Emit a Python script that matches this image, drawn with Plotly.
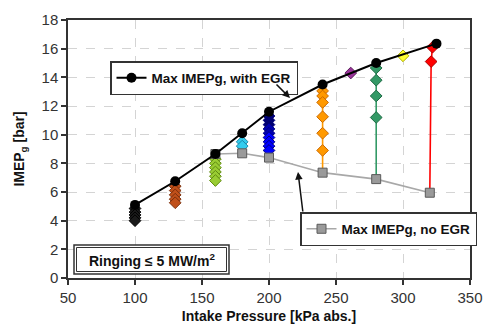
import plotly.graph_objects as go

# ---------------- data ----------------
max_egr_x = [100, 130, 160, 180, 200, 240, 280, 325]
max_egr_y = [5.1, 6.75, 8.65, 10.1, 11.6, 13.5, 15.0, 16.35]

no_egr_x = [160, 180, 200, 240, 280, 320]
no_egr_y = [8.65, 8.7, 8.4, 7.35, 6.9, 5.95]

# EGR sweeps (diamonds) at each intake pressure
sweep_100_x = [100, 100, 100, 100, 100]
sweep_100_y = [4.85, 4.6, 4.4, 4.2, 4.0]
sweep_130_x = [130, 130, 130, 130, 130]
sweep_130_y = [6.4, 6.1, 5.8, 5.5, 5.25]
sweep_160_x = [160, 160, 160, 160, 160, 160]
sweep_160_y = [8.3, 8.0, 7.7, 7.4, 7.1, 6.8]
sweep_180_x = [180, 180]
sweep_180_y = [9.5, 9.2]
sweep_200_x = [200, 200, 200, 200, 200, 200, 200, 200, 200]
sweep_200_y = [11.3, 11.0, 10.7, 10.4, 10.1, 9.8, 9.5, 9.2, 8.9]
sweep_240_x = [240, 240, 240, 240, 240, 240]
sweep_240_y = [13.05, 12.7, 12.25, 11.25, 10.1, 8.9]
sweep_260_x = [261]
sweep_260_y = [14.3]
sweep_280_x = [280, 280, 280, 280]
sweep_280_y = [14.65, 13.8, 12.7, 11.2]
sweep_300_x = [300]
sweep_300_y = [15.5]
sweep_320_x = [322, 321]
sweep_320_y = [16.1, 15.1]

x_ticks = [50, 100, 150, 200, 250, 300, 350]
y_ticks = [0, 2, 4, 6, 8, 10, 12, 14, 16, 18]

FONT = "Arial, Liberation Sans, sans-serif"

# ---------------- geometry helpers (pixel -> paper) ----------------
W, H = 486, 332
ML, MR, MT, MB = 68, 16, 20, 54
PW, PH = W - ML - MR, H - MT - MB


def px(xp):
    return (xp - ML) / PW


def py(yp):
    return (H - MB - yp) / PH


fig = go.Figure()

# sweeps: (x, y, top y, bottom y or None, fill, edge)
sweeps = [
    (sweep_100_x, sweep_100_y, max_egr_y[0], None, "#1a1a1a", "#000000"),
    (sweep_130_x, sweep_130_y, max_egr_y[1], None, "#c0501a", "#7a2e0a"),
    (sweep_160_x, sweep_160_y, max_egr_y[2], None, "#99cc33", "#5f8a10"),
    (sweep_180_x, sweep_180_y, max_egr_y[3], no_egr_y[1], "#33ccee", "#1a88aa"),
    (sweep_200_x, sweep_200_y, max_egr_y[4], no_egr_y[2], "#0000ee", "#000080"),
    (sweep_240_x, sweep_240_y, max_egr_y[5], no_egr_y[3], "#ff9900", "#cc6a00"),
    (sweep_260_x, sweep_260_y, None, None, "#993399", "#5a1a5a"),
    (sweep_280_x, sweep_280_y, max_egr_y[6], no_egr_y[4], "#339966", "#1f6b45"),
    (sweep_300_x, sweep_300_y, None, None, "#ffff33", "#b0b000"),
    (sweep_320_x, sweep_320_y, max_egr_y[7], no_egr_y[5], "#ff0000", "#aa0000"),
]

sweep_line_ends = {
    180: (max_egr_x[3], no_egr_x[1]),
    200: (max_egr_x[4], no_egr_x[2]),
    240: (max_egr_x[5], no_egr_x[3]),
    280: (max_egr_x[6], no_egr_x[4]),
    322: (max_egr_x[7], no_egr_x[5]),
}

for xs, ys, top, bot, fill, edge in sweeps:
    if top is not None and bot is not None:
        xt, xb = sweep_line_ends[xs[0]]
        lx = [xt] + list(xs) + [xb]
        ly = [top] + list(ys) + [bot]
        fig.add_trace(go.Scatter(x=lx, y=ly, mode="lines",
                                 line=dict(color=fill, width=1.6),
                                 showlegend=False, hoverinfo="skip"))
    colors = fill
    if fill == "#0000ee":
        colors = ["#000070"] * 3 + ["#0000b0"] * 2 + ["#0000ff"] * (len(ys) - 5)
    fig.add_trace(go.Scatter(x=xs, y=ys, mode="markers",
                             marker=dict(symbol="diamond", size=9, color=colors,
                                         line=dict(color=edge, width=1)),
                             showlegend=False))

# no-EGR line
fig.add_trace(go.Scatter(
    x=no_egr_x, y=no_egr_y, mode="lines+markers",
    name="<b>Max IMEPg, no EGR</b>",
    line=dict(color="#a8a8a8", width=1.6),
    marker=dict(symbol="square", size=9, color="#9a9a9a",
                line=dict(color="#5a5a5a", width=1)),
    legend="legend2",
))

# max with EGR line
fig.add_trace(go.Scatter(
    x=max_egr_x, y=max_egr_y, mode="lines+markers",
    name="<b>Max IMEPg, with EGR</b>",
    line=dict(color="#000000", width=2),
    marker=dict(symbol="circle", size=10, color="#000000"),
    legend="legend",
))

axis_common = dict(
    showline=True, linecolor="#333333", linewidth=1.5, mirror=True,
    ticks="outside", ticklen=5, tickwidth=1.5, tickcolor="#333333",
    showgrid=True, gridcolor="#d4d4d4", griddash="dash", gridwidth=1,
    zeroline=False, automargin=False,
    tickfont=dict(family=FONT, size=15, color="#333333"),
)

fig.update_layout(
    width=W, height=H,
    margin=dict(l=ML, r=MR, t=MT, b=MB, autoexpand=False),
    paper_bgcolor="white", plot_bgcolor="white",
    font=dict(family=FONT, color="#111111"),
    xaxis=dict(range=[50, 350], tickvals=x_ticks,
               title=dict(text="<b>Intake Pressure [kPa abs.]</b>",
                          font=dict(family=FONT, size=14, color="#111111"),
                          standoff=6),
               **axis_common),
    yaxis=dict(range=[0, 18], tickvals=y_ticks,
               title=dict(text="<b>IMEP<sub>g</sub> [bar]</b>",
                          font=dict(family=FONT, size=14, color="#111111"),
                          standoff=14),
               **axis_common),
    legend=dict(x=px(110), y=py(61), xanchor="left", yanchor="top",
                bgcolor="white", bordercolor="#333333", borderwidth=1.5,
                font=dict(family=FONT, size=13.5, color="#111111"),
                itemwidth=30, tracegroupgap=0),
    legend2=dict(x=px(300), y=py(212), xanchor="left", yanchor="top",
                 bgcolor="white", bordercolor="#333333", borderwidth=1.5,
                 font=dict(family=FONT, size=13.5, color="#111111"),
                 itemwidth=30, tracegroupgap=0),
    showlegend=True,
)

# Ringing box (double border)
fig.add_shape(type="rect", xref="paper", yref="paper",
              x0=px(74), x1=px(229), y0=py(274), y1=py(245),
              line=dict(color="#333333", width=1.5), fillcolor="white", layer="above")
fig.add_shape(type="rect", xref="paper", yref="paper",
              x0=px(76.5), x1=px(226.5), y0=py(271.5), y1=py(247.5),
              line=dict(color="#333333", width=1), layer="above")
fig.add_annotation(xref="paper", yref="paper", x=px(151.5), y=py(259.5),
                   xanchor="center", yanchor="middle",
                   text="<b>Ringing ≤ 5 MW/m<sup>2</sup></b>", showarrow=False,
                   font=dict(family=FONT, size=14, color="#111111"))

# arrows
fig.add_annotation(xref="paper", yref="paper", x=px(290), y=py(98),
                   ax=-15, ay=-15,
                   text="", showarrow=True, arrowhead=2, arrowsize=1,
                   arrowwidth=1.5, arrowcolor="#111111")
fig.add_annotation(xref="paper", yref="paper", x=px(298), y=py(172),
                   ax=5, ay=41,
                   text="", showarrow=True, arrowhead=2, arrowsize=1,
                   arrowwidth=1.5, arrowcolor="#111111")

fig.write_html("out.html",
               config={"displayModeBar": False},
               post_script="document.body.style.margin='0';document.body.style.padding='0';")
